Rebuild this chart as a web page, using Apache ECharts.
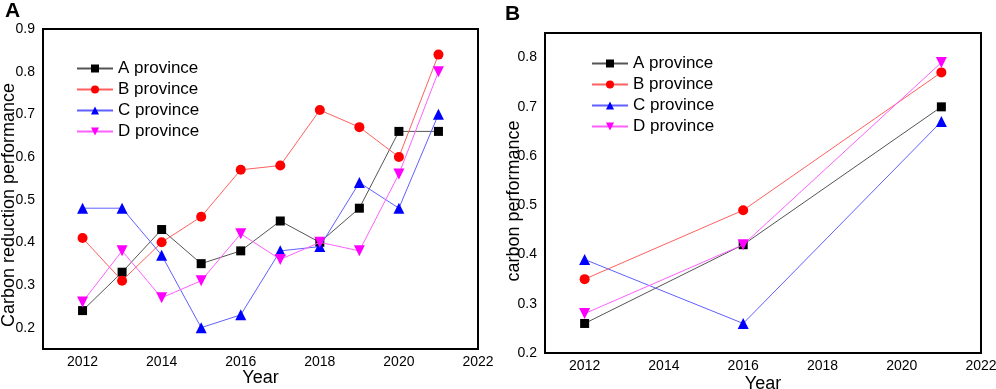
<!DOCTYPE html>
<html>
<head>
<meta charset="utf-8">
<script src="https://cdn.jsdelivr.net/npm/echarts@6/dist/echarts.min.js"></script>
<style>
  html, body { margin: 0; padding: 0; background: #fff; }
  #chart { width: 996px; height: 389px; }
</style>
</head>
<body>
<div id="chart"></div>
<script>
const seriesNames = ['A province', 'B province', 'C province', 'D province'];

// panel A: yearly values
const yearsA = [2012, 2013, 2014, 2015, 2016, 2017, 2018, 2019, 2020, 2021];
const aProvA = [0.24, 0.33, 0.43, 0.35, 0.38, 0.45, 0.40, 0.48, 0.66, 0.66];
const bProvA = [0.41, 0.31, 0.40, 0.46, 0.57, 0.58, 0.71, 0.67, 0.60, 0.84];
const cProvA = [0.48, 0.48, 0.37, 0.20, 0.23, 0.38, 0.39, 0.54, 0.48, 0.70];
const dProvA = [0.26, 0.38, 0.27, 0.31, 0.42, 0.36, 0.40, 0.38, 0.56, 0.80];

// panel B: three sample years
const yearsB = [2012, 2016, 2021];
const aProvB = [0.26, 0.42, 0.70];
const bProvB = [0.35, 0.49, 0.77];
const cProvB = [0.39, 0.26, 0.67];
const dProvB = [0.28, 0.42, 0.79];

const markerColors = ['#000000', '#ff0000', '#0000ff', '#ff00ff'];
const lineColors = ['#555555', '#ff6060', '#6060ff', '#ff60ff'];
const symbols = ['rect', 'circle', 'triangle', 'triangle'];
const symbolSizes = [9, 10, 11, 11];
const symbolRotates = [0, 0, 0, 180];

const font = 'Liberation Sans, Arial, sans-serif';

const chart = echarts.init(document.getElementById('chart'));

const zip = (xs, ys) => xs.map((x, i) => [x, ys[i]]);

const makeSeries = (values, years, idx) => values.map((vals, i) => ({
  name: seriesNames[i],
  type: 'line',
  xAxisIndex: idx,
  yAxisIndex: idx,
  data: zip(years, vals),
  symbol: symbols[i],
  symbolSize: symbolSizes[i],
  symbolRotate: symbolRotates[i],
  itemStyle: { color: markerColors[i] },
  lineStyle: { color: lineColors[i], width: 1 },
  z: 2 + i,
  animation: false
}));

const xAxisBase = (gridIndex, nameGap) => ({
  gridIndex,
  type: 'value',
  min: 2011,
  max: 2022,
  interval: 1,
  name: 'Year',
  nameLocation: 'middle',
  nameGap,
  nameMoveOverlap: false,
  nameTextStyle: { fontFamily: font, fontSize: 18, color: '#000' },
  axisLine: { show: true, lineStyle: { color: '#000', width: 2 } },
  axisTick: { show: false },
  splitLine: { show: false },
  axisLabel: {
    fontFamily: font, fontSize: 14, color: '#000', margin: 6,
    showMinLabel: true, showMaxLabel: true,
    formatter: (v) => (Math.round(v) % 2 === 0 ? String(Math.round(v)) : '')
  }
});

// nudge: extra padding on the rotated name to move it along the axis
const yAxisBase = (gridIndex, min, max, name, nameGap, nudge) => ({
  gridIndex,
  type: 'value',
  min,
  max,
  interval: 0.05,
  name,
  nameLocation: 'middle',
  nameGap,
  nameMoveOverlap: false,
  nameTextStyle: {
    fontFamily: font, fontSize: 18, color: '#000',
    padding: [0, nudge, 0, 0]
  },
  axisLine: { show: true, lineStyle: { color: '#000', width: 2 } },
  axisTick: { show: false },
  splitLine: { show: false },
  axisLabel: {
    fontFamily: font, fontSize: 14, color: '#000', margin: 8,
    formatter: (v) => {
      const k = Math.round(v * 100);
      return k % 10 === 0 ? (k / 100).toFixed(1) : '';
    }
  }
});

const legendBase = (left, top) => ({
  left,
  top,
  padding: 0,
  orient: 'vertical',
  itemWidth: 36,
  itemHeight: 10,
  itemGap: 4,
  data: seriesNames,
  textStyle: { fontFamily: font, fontSize: 17, lineHeight: 17, color: '#000' },
  selectedMode: false
});

const option = {
  backgroundColor: '#fff',
  animation: false,
  grid: [
    { left: 43, top: 29, width: 435, height: 320, outerBoundsMode: 'none', show: true, borderColor: '#000', borderWidth: 2 },
    { left: 545, top: 33, width: 436, height: 320, outerBoundsMode: 'none', show: true, borderColor: '#000', borderWidth: 2 }
  ],
  xAxis: [xAxisBase(0, 20), xAxisBase(1, 22)],
  yAxis: [
    yAxisBase(0, 0.15, 0.9, 'Carbon reduction performance', 25, 32),
    yAxisBase(1, 0.2, 0.85, 'carbon performance', 22, 16)
  ],
  legend: [legendBase(76, 60), legendBase(591, 55)],
  title: [
    { text: 'A', left: 0, top: -4, textStyle: { fontFamily: font, fontSize: 21, fontWeight: 'bold', color: '#000' } },
    { text: 'B', left: 500, top: -1, textStyle: { fontFamily: font, fontSize: 21, fontWeight: 'bold', color: '#000' } }
  ],
  series: [
    ...makeSeries([aProvA, bProvA, cProvA, dProvA], yearsA, 0),
    ...makeSeries([aProvB, bProvB, cProvB, dProvB], yearsB, 1)
  ]
};

chart.setOption(option);
</script>
</body>
</html>
